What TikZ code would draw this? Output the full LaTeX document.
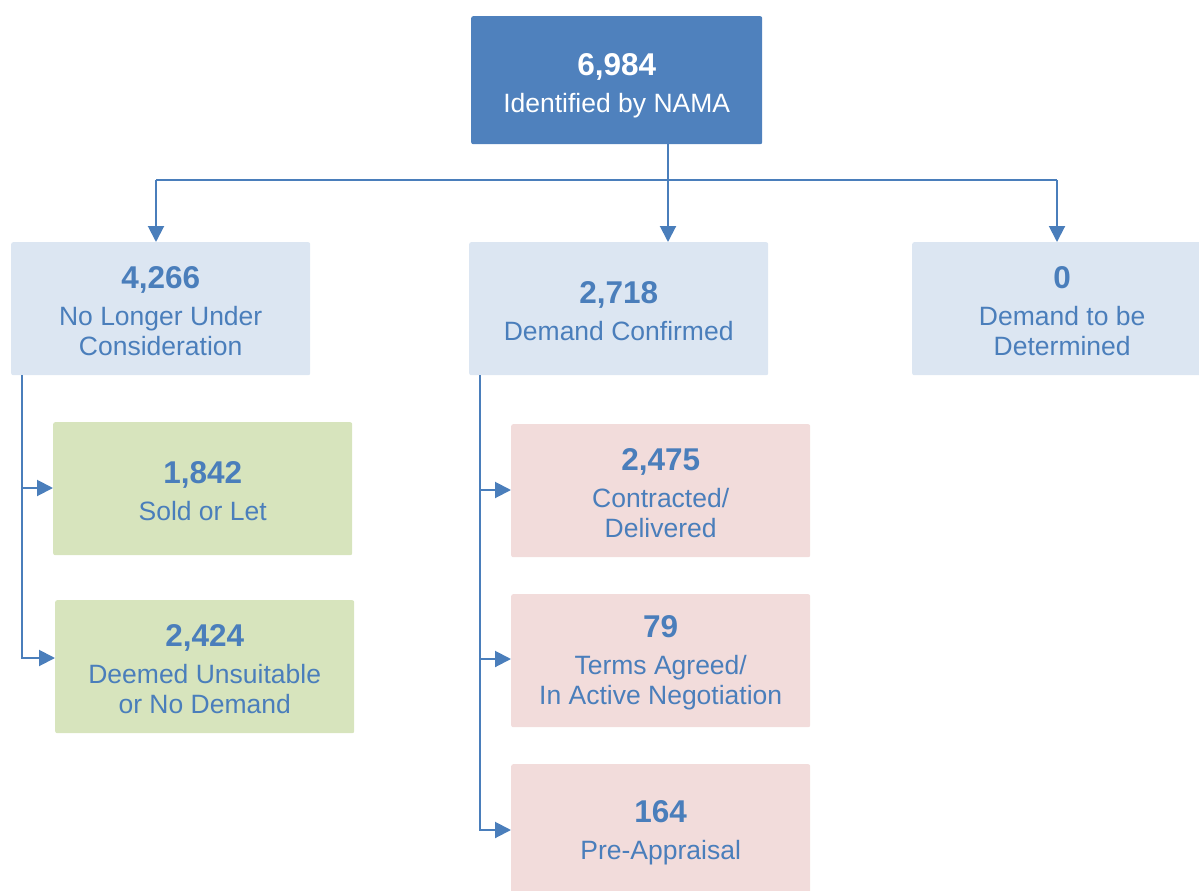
\documentclass[tikz,border=0pt]{standalone}
\usepackage{fontspec}
\setmainfont{Liberation Sans}
\usetikzlibrary{arrows.meta}
\definecolor{topblue}{HTML}{4F81BD}
\definecolor{lightblue}{HTML}{DCE6F2}
\definecolor{lightgreen}{HTML}{D7E4BD}
\definecolor{lightpink}{HTML}{F2DCDB}
\definecolor{txtblue}{HTML}{4A7EBB}
\definecolor{linecol}{HTML}{4A7EBB}
\newcommand{\boxtext}[3][27]{\fontsize{31.5}{30}\selectfont\bfseries\rule{0pt}{#1pt}#2\\[7pt]\fontsize{26.5}{30}\selectfont\mdseries #3}
\tikzset{
  box/.style={anchor=north west, minimum width=299pt, minimum height=133pt, inner sep=0pt,
    align=center, rounded corners=2pt, text=txtblue, font=\fontsize{26.5}{30}\selectfont},
  topbox/.style={box, fill=topblue, text=white, minimum width=291pt, minimum height=128pt},
  bluebox/.style={box, fill=lightblue},
  greenbox/.style={box, fill=lightgreen},
  pinkbox/.style={box, fill=lightpink},
  conn/.style={draw=linecol, line width=2pt},
  arr/.style={conn, -{Triangle[width=16pt,length=16pt]}}
}
\begin{document}
\begin{tikzpicture}[x=1pt,y=-1pt]
\useasboundingbox (0,0) rectangle (1199,891);
\node[topbox] (top) at (471,16) {\boxtext[33]{6,984}{Identified by NAMA}};
\node[bluebox] (nl) at (11,242) {\boxtext{4,266}{No Longer Under\\Consideration}};
\node[bluebox] (dc) at (469,242) {\boxtext{2,718}{Demand Confirmed}};
\node[bluebox, minimum width=300pt] (dd) at (912,242) {\boxtext{0}{Demand to be\\Determined}};
\node[greenbox] (sl) at (53,422) {\boxtext{1,842}{Sold or Let}};
\node[greenbox] (du) at (55,600) {\boxtext{2,424}{Deemed Unsuitable\\or No Demand}};
\node[pinkbox] (cd) at (511,424) {\boxtext{2,475}{Contracted/\\Delivered}};
\node[pinkbox] (ta) at (511,594) {\boxtext{79}{Terms Agreed/\\In Active Negotiation}};
\node[pinkbox] (pa) at (511,764) {\boxtext{164}{Pre-Appraisal}};
\coordinate (j) at (668,180);
\coordinate (jl) at (156,180);
\coordinate (jr) at (1057,180);
\draw[conn] (top.south -| j) -- (j);
\draw[conn] (jl) -- (jr);
\draw[arr] (jl) -- (jl |- nl.north);
\draw[arr] (j) -- (j |- dc.north);
\draw[arr] (jr) -- (jr |- dd.north);
\coordinate (lt) at (22,375);
\coordinate (mt) at (480,375);
\draw[conn] (lt) -- (22,659);
\draw[arr] (22,488) -- (sl.west |- 22,488);
\draw[arr] (22,658) -- (du.west |- 22,658);
\draw[conn] (mt) -- (480,831);
\draw[arr] (480,490) -- (cd.west |- 480,490);
\draw[arr] (480,659) -- (ta.west |- 480,659);
\draw[arr] (480,830) -- (pa.west |- 480,830);
\end{tikzpicture}
\end{document}
